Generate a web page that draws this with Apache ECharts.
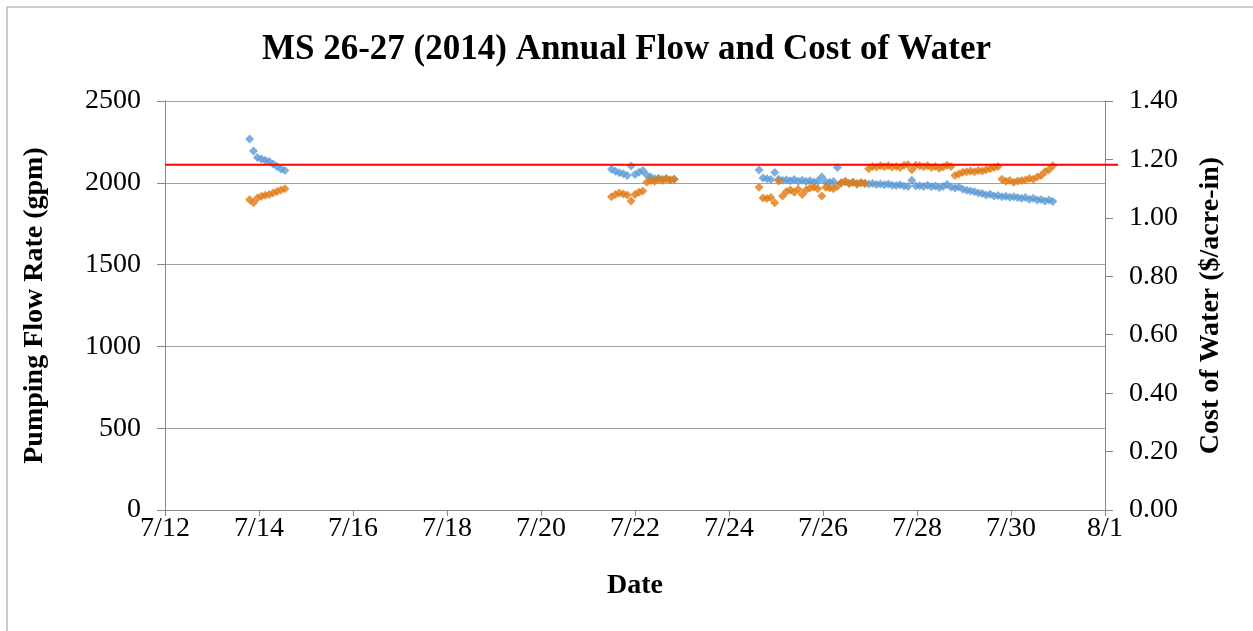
<!DOCTYPE html>
<html>
<head>
<meta charset="utf-8">
<script src="https://cdn.jsdelivr.net/npm/echarts@6/dist/echarts.min.js"></script>
<style>
  html, body { margin: 0; padding: 0; background: #fff; }
  #flow_cost_con { width: 1253px; height: 631px; }
</style>
</head>
<body>
<div id="flow_cost_con"></div>
<script>
// readings every 2 hours, x = day of July (32 = 8/1)
const readingStep = 2 / 24;
const segStart = [13.80, 21.50, 24.64];

// Pumping flow rate (gpm)
const flowSeg1 = [2267, 2195, 2155, 2145, 2138, 2130, 2115, 2100, 2085, 2075];
const flowSeg2 = [2083, 2070, 2062, 2055, 2045, 2103, 2050, 2065, 2075, 2048, 2035, 2025, 2028, 2022, 2025, 2018, 2022];
const flowSeg3 = [2079, 2030, 2025, 2020, 2063, 2022, 2015, 2018, 2012, 2020,
                  2010, 2015, 2008, 2012, 2005, 2010, 2036, 2005, 2003, 2008,
                  2093, 2000, 2005, 1998, 2002, 1995, 2000, 1997, 1992, 1995,
                  1990, 1993, 1988, 1992, 1985, 1983, 1988, 1980, 1978, 2016,
                  1980, 1982, 1978, 1985, 1976, 1980, 1972, 1978, 1990, 1975,
                  1968, 1975, 1960, 1955, 1950, 1945, 1938, 1935, 1925, 1930,
                  1920, 1922, 1915, 1918, 1912, 1915, 1910, 1905, 1910, 1900,
                  1905, 1895, 1898, 1888, 1895, 1885];

// Cost of water ($/acre-in)
const costSeg1 = [1.062, 1.052, 1.068, 1.074, 1.077, 1.080, 1.085, 1.090, 1.095, 1.100];
const costSeg2 = [1.072, 1.080, 1.085, 1.082, 1.078, 1.058, 1.080, 1.088, 1.092, 1.122, 1.128, 1.125, 1.132, 1.128, 1.135, 1.130, 1.132];
const costSeg3 = [1.105, 1.068, 1.066, 1.070, 1.052, 1.126, 1.075, 1.090, 1.095, 1.088,
                  1.098, 1.080, 1.095, 1.102, 1.105, 1.100, 1.075, 1.105, 1.102, 1.100,
                  1.108, 1.120, 1.125, 1.118, 1.122, 1.115, 1.120, 1.118, 1.168, 1.176,
                  1.174, 1.178, 1.175, 1.178, 1.174, 1.176, 1.172, 1.180, 1.182, 1.165,
                  1.180, 1.178, 1.175, 1.178, 1.172, 1.176, 1.170, 1.174, 1.180, 1.176,
                  1.145, 1.150, 1.156, 1.158, 1.160, 1.158, 1.162, 1.160, 1.165, 1.168,
                  1.172, 1.176, 1.132, 1.125, 1.128, 1.122, 1.126, 1.128, 1.130, 1.135,
                  1.132, 1.140, 1.145, 1.158, 1.165, 1.178];

// flow limit line (gpm)
const flowLimit = 2110;

function buildPoints(segs) {
    let pts = [];
    for (let s = 0; s < segs.length; s++) {
        for (let i = 0; i < segs[s].length; i++) {
            pts.push([segStart[s] + i * readingStep, segs[s][i]]);
        }
    }
    return pts;
}

const serif = '"Liberation Serif", "Times New Roman", serif';
const axisGray = '#868686';

let option = {
    animation: false,
    backgroundColor: '#fff',
    title: {
        text: 'MS 26-27 (2014) Annual Flow and Cost of Water',
        left: 'center',
        top: 27,
        textStyle: { fontFamily: serif, fontSize: 35, fontWeight: 'bold', color: '#000' }
    },
    grid: { left: 165, right: 148, top: 101, bottom: 121 },
    xAxis: {
        type: 'value',
        min: 12,
        max: 32,
        interval: 2,
        name: 'Date',
        nameLocation: 'middle',
        nameGap: 62,
        nameTextStyle: { fontFamily: serif, fontSize: 28, fontWeight: 'bold', color: '#000' },
        axisLine: { lineStyle: { color: axisGray } },
        axisTick: { show: true, length: 6, lineStyle: { color: axisGray } },
        splitLine: { show: false },
        axisLabel: {
            fontFamily: serif, fontSize: 28, color: '#000', margin: 5,
            formatter: function (v) { return v <= 31 ? '7/' + v : '8/' + (v - 31); }
        }
    },
    yAxis: [
        {
            type: 'value',
            min: 0,
            max: 2500,
            interval: 500,
            name: 'Pumping Flow Rate (gpm)',
            nameLocation: 'middle',
            nameRotate: 90,
            nameGap: 116,
            nameTextStyle: { fontFamily: serif, fontSize: 28, fontWeight: 'bold', color: '#000' },
            axisLine: { show: true, lineStyle: { color: axisGray } },
            axisTick: { show: true, length: 8, lineStyle: { color: axisGray } },
            splitLine: { show: true, lineStyle: { color: '#a0a0a0', width: 1 } },
            axisLabel: {
                fontFamily: serif, fontSize: 28, color: '#000', margin: 24,
                formatter: function (v) { return String(v); }
            }
        },
        {
            type: 'value',
            min: 0,
            max: 1.4,
            interval: 0.2,
            position: 'right',
            name: 'Cost of Water ($/acre-in)',
            nameLocation: 'middle',
            nameRotate: 90,
            nameGap: 92,
            nameTextStyle: { fontFamily: serif, fontSize: 28, fontWeight: 'bold', color: '#000' },
            axisLine: { show: true, lineStyle: { color: axisGray } },
            axisTick: { show: true, length: 8, lineStyle: { color: axisGray } },
            splitLine: { show: false },
            axisLabel: {
                fontFamily: serif, fontSize: 28, color: '#000', margin: 24,
                formatter: function (v) { return v.toFixed(2); }
            }
        }
    ],
    series: [
        {
            name: 'Flow',
            type: 'scatter',
            yAxisIndex: 0,
            symbol: 'diamond',
            symbolSize: 9,
            itemStyle: { color: '#5B9BD5' },
            data: buildPoints([flowSeg1, flowSeg2, flowSeg3])
        },
        {
            name: 'Cost',
            type: 'scatter',
            yAxisIndex: 1,
            symbol: 'diamond',
            symbolSize: 9,
            itemStyle: { color: '#E27A12' },
            data: buildPoints([costSeg1, costSeg2, costSeg3])
        }
    ]
};

const flowChart = echarts.init(document.getElementById('flow_cost_con'));
flowChart.setOption(option);

// limit line and outer frame, placed with the chart's own scales
const pLeft = flowChart.convertToPixel({ gridIndex: 0 }, [12, flowLimit]);
const pRight = flowChart.convertToPixel({ gridIndex: 0 }, [32, flowLimit]);
flowChart.setOption({
    graphic: [
        {
            type: 'rect',
            shape: { x: 7, y: 7, width: 1400, height: 800 },
            style: { fill: null, stroke: '#9a9a9a', lineWidth: 1 },
            silent: true
        },
        {
            type: 'line',
            shape: { x1: pLeft[0], y1: pLeft[1], x2: pRight[0] + 13, y2: pRight[1] },
            style: { stroke: '#FF0000', lineWidth: 2 },
            z: 100,
            silent: true
        }
    ]
});

window.addEventListener('resize', function () {
    flowChart.resize();
});
</script>
</body>
</html>
